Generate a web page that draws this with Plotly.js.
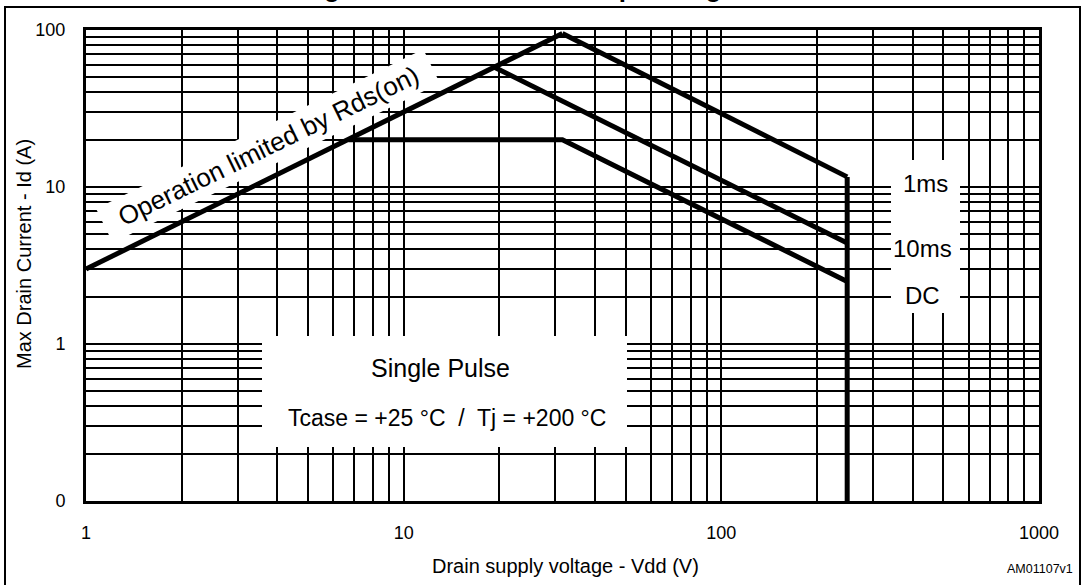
<!DOCTYPE html>
<html>
<head>
<meta charset="utf-8">
<script src="https://cdn.plot.ly/plotly-3.0.1.min.js"></script>
<style>html,body{margin:0;padding:0;background:#fff;}#chart{width:1086px;height:585px;}</style>
</head>
<body>
<div id="chart"></div>
<script>
// ---- data ----
const rdsLimitV = [1, 31.6];
const rdsLimitI = [3.0, 95];
const pulse1msV = [31.6, 249];
const pulse1msI = [95, 11.6];
const pulse10msV = [19.3, 249];
const pulse10msI = [58, 4.4];
const dcV = [6.7, 31.6, 249];
const dcI = [20, 20, 2.5];
const vddMaxV = [249, 249];
const vddMaxI = [11.6, 0.1];

const xTickVals = [1,2,3,4,5,6,7,8,9,10,20,30,40,50,60,70,80,90,100,200,300,400,500,600,700,800,900,1000];
const xTickText = ['1','','','','','','','','','10','','','','','','','','','100','','','','','','','','','1000'];
const yTickVals = [0.1,0.2,0.3,0.4,0.5,0.6,0.7,0.8,0.9,1,2,3,4,5,6,7,8,9,10,20,30,40,50,60,70,80,90,100];
const yTickText = ['0','','','','','','','','','1','','','','','','','','','10','','','','','','','','','100'];

const curveLabels = ['1ms', '10ms', 'DC'];

// ---- layout helpers (pixel -> paper) ----
const L = 86, R = 1039, T = 30, B = 501;
const px = x => (x - L) / (R - L);
const py = y => (B - y) / (B - T);
const FONT = 'Liberation Sans, Arial, sans-serif';

function line(x, y) {
  return {x: x, y: y, type: 'scatter', mode: 'lines', hoverinfo: 'skip',
          line: {color: '#000', width: 5}, showlegend: false};
}
const traces = [
  line(rdsLimitV, rdsLimitI),
  line(pulse1msV, pulse1msI),
  line(pulse10msV, pulse10msI),
  line(dcV, dcI),
  line(vddMaxV, vddMaxI)
];

// rotated white box behind the Rds(on) label
const C = [268, 146], ang = 26 * Math.PI / 180, hl = 182, hh = 19;
const u = [Math.cos(ang), -Math.sin(ang)], n = [Math.sin(ang), Math.cos(ang)];
const corners = [[-1,-1],[1,-1],[1,1],[-1,1]].map(([a,b]) => [C[0] + a*hl*u[0] + b*hh*n[0], C[1] + a*hl*u[1] + b*hh*n[1]]);
const rotPath = 'M' + corners.map(p => px(p[0]).toFixed(5) + ',' + py(p[1]).toFixed(5)).join('L') + 'Z';

const shapes = [
  {type: 'path', xref: 'paper', yref: 'paper', path: rotPath, fillcolor: '#fff', line: {width: 0}, layer: 'above'},
  {type: 'rect', xref: 'paper', yref: 'paper', x0: px(891), x1: px(960), y0: py(313), y1: py(160), fillcolor: '#fff', line: {width: 0}, layer: 'above'},
  {type: 'rect', xref: 'paper', yref: 'paper', x0: px(262), x1: px(627), y0: py(447), y1: py(336), fillcolor: '#fff', line: {width: 0}, layer: 'above'},
  // outer frame
  {type: 'rect', xref: 'paper', yref: 'paper', x0: px(5), x1: px(1080), y0: py(620), y1: py(7), fillcolor: 'rgba(0,0,0,0)', line: {color: '#000', width: 2}, layer: 'above'}
];

function ann(text, x, y, size, extra) {
  return Object.assign({text: text, xref: 'paper', yref: 'paper', x: px(x), y: py(y), showarrow: false,
    xanchor: 'center', yanchor: 'middle', font: {family: FONT, size: size, color: '#000'}}, extra || {});
}

const annotations = [
  ann('<b>Figure 3. Maximum safe operating area</b>', 299, -11.5, 26, {xanchor: 'left'}),
  ann('Operation limited by Rds(on)', C[0], C[1], 26, {textangle: -26}),
  ann(curveLabels[0], 925, 183, 24),
  ann(curveLabels[1], 922, 248, 24),
  ann(curveLabels[2], 922, 295, 24),
  ann('Single Pulse', 440, 368, 25),
  ann('Tcase = +25 °C  /  Tj = +200 °C', 447, 418, 23),
  ann('Drain supply voltage - Vdd (V)', 565, 566, 20),
  ann('Max Drain Current - Id (A)', 24, 254, 20, {textangle: -90}),
  ann('AM01107v1', 1040, 569, 12.5)
];

const axisCommon = {
  type: 'log', showgrid: true, gridcolor: '#000', gridwidth: 2,
  showline: true, linecolor: '#000', linewidth: 3, mirror: true,
  ticks: '', tickmode: 'array', zeroline: false, fixedrange: true,
  tickfont: {family: FONT, size: 18, color: '#000'}
};

const layout = {
  width: 1086, height: 585,
  margin: {l: L, r: 1086 - R, t: T, b: 585 - B, pad: 0},
  paper_bgcolor: '#fff', plot_bgcolor: '#fff',
  showlegend: false,
  xaxis: Object.assign({}, axisCommon, {range: [0, 3], tickvals: xTickVals, ticktext: xTickText, ticklabelstandoff: 13}),
  yaxis: Object.assign({}, axisCommon, {range: [-1, 2], tickvals: yTickVals, ticktext: yTickText, ticklabelstandoff: 14}),
  shapes: shapes,
  annotations: annotations
};

Plotly.newPlot('chart', traces, layout, {displayModeBar: false, staticPlot: true});
</script>
</body>
</html>
